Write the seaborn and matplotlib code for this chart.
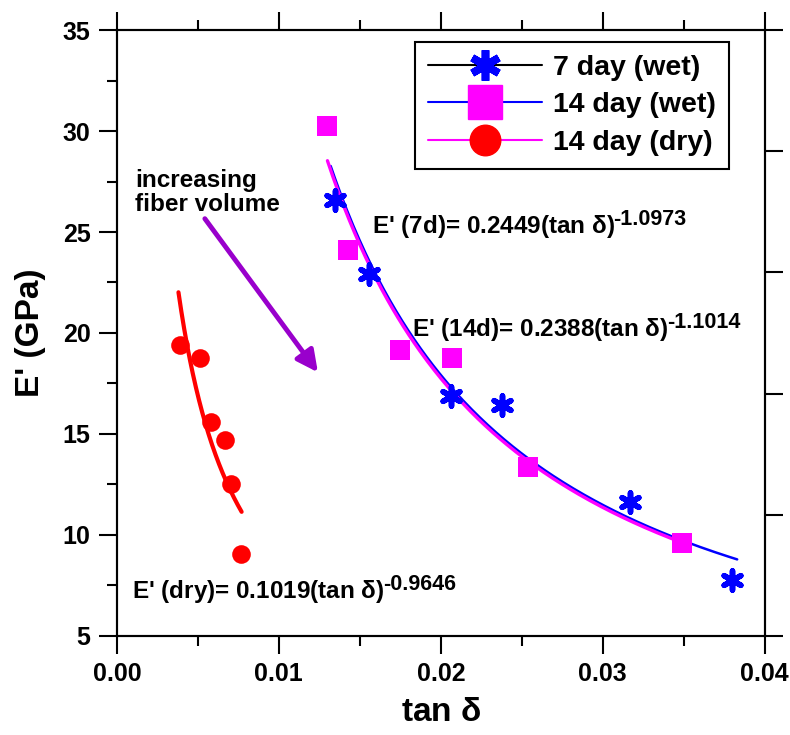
import numpy as np
import matplotlib
matplotlib.use("Agg")
import matplotlib.pyplot as plt
import seaborn as sns
from matplotlib.lines import Line2D
from matplotlib.ticker import MultipleLocator, FormatStrFormatter

# 7 day (wet) specimens
tan_7wet = [0.01346, 0.01556, 0.0206, 0.0238, 0.0317, 0.0380]
E_7wet = [26.6, 22.9, 16.9, 16.45, 11.65, 7.75]

# 14 day (wet) specimens
tan_14wet = [0.01296, 0.01426, 0.01747, 0.02068, 0.02537, 0.03488]
E_14wet = [30.25, 24.1, 19.15, 18.75, 13.35, 9.6]

# 14 day (dry) specimens
tan_14dry = [0.00389, 0.00512, 0.0058, 0.00667, 0.00704, 0.00765]
E_14dry = [19.4, 18.75, 15.6, 14.7, 12.5, 9.05]

# power-law fits printed on the chart: E' = a * (tan d)^b
fit_names = ["7d", "14d", "dry"]
fit_a = [0.2449, 0.2388, 0.1019]
fit_b = [-1.0973, -1.1014, -0.9646]
fit_lo = [0.0132, 0.0130, 0.0038]
fit_hi = [0.0383, 0.03525, 0.0077]
fit_colors = ["blue", "magenta", "red"]
fit_widths = [1.8, 2.4, 3.0]

legend_labels = ["7 day (wet)", "14 day (wet)", "14 day (dry)"]

sns.set_style("ticks")
plt.rcParams["font.family"] = ["Liberation Sans", "DejaVu Sans"]
plt.rcParams["font.weight"] = "bold"
plt.rcParams["mathtext.fontset"] = "custom"
plt.rcParams["mathtext.rm"] = "Liberation Sans"
plt.rcParams["mathtext.default"] = "rm"
for key in ["text.color", "axes.labelcolor", "xtick.color", "ytick.color",
            "axes.edgecolor"]:
    plt.rcParams[key] = "black"

fig, ax = plt.subplots(figsize=(7.9, 7.35), dpi=100)
fig.subplots_adjust(left=0.148, right=0.968, bottom=0.135, top=0.959)

# fitted curves
for a, b, lo, hi, c, lw in zip(fit_a, fit_b, fit_lo, fit_hi, fit_colors, fit_widths):
    t = np.linspace(lo, hi, 200)
    sns.lineplot(x=t, y=a * t ** b, color=c, lw=lw, ax=ax)

# measured points
sns.scatterplot(x=tan_7wet, y=E_7wet, marker=(6, 2, 0), s=190, color="blue",
                linewidth=4, ax=ax, zorder=3)
sns.scatterplot(x=tan_14wet, y=E_14wet, marker="s", s=210, color="magenta",
                linewidth=0, ax=ax, zorder=3)
sns.scatterplot(x=tan_14dry, y=E_14dry, marker="o", s=180, color="red",
                linewidth=0, ax=ax, zorder=3)

ax.set_xlim(0, 0.04)
ax.set_ylim(5, 35)
ax.xaxis.set_major_locator(MultipleLocator(0.01))
ax.xaxis.set_minor_locator(MultipleLocator(0.005))
ax.yaxis.set_major_locator(MultipleLocator(5))
ax.yaxis.set_minor_locator(MultipleLocator(2.5))
ax.xaxis.set_major_formatter(FormatStrFormatter("%.2f"))
ax.tick_params(which="major", direction="out", length=13, width=1.5,
               labelsize=18, top=True, right=False, pad=6)
ax.tick_params(which="minor", direction="out", length=7, width=1.5,
               top=True, right=False)
for sp in ax.spines.values():
    sp.set_linewidth(1.5)
    sp.set_color("black")

# right-hand axis with its own unlabeled ticks
ax2 = ax.twinx()
ax2.set_ylim(5, 35)
ax2.set_yticks([5, 11, 17, 23, 29, 35])
ax2.tick_params(direction="out", length=13, width=1.5, labelright=False)
for sp in ax2.spines.values():
    sp.set_linewidth(1.5)

ax.set_xlabel(r"tan $\delta$", fontsize=24, fontweight="bold", labelpad=8)
ax.set_ylabel("E' (GPa)", fontsize=24, fontweight="bold", labelpad=12)

# fit equations, exponent raised next to the closing bracket
eq_pos = [(0.01574, 25.25), (0.01821, 20.15), (0.000926, 7.18)]
for name, a, b, (x0, y0) in zip(fit_names, fit_a, fit_b, eq_pos):
    base = ax.text(x0, y0, f"E' ({name})= {a:.4f}(tan $\\delta$)",
                   fontsize=17.5, fontweight="bold", va="center", ha="left")
    ax.annotate(f"{b:.4f}", xy=(1, 0.5), xycoords=base,
                xytext=(-1, 1.5), textcoords="offset points",
                fontsize=15.5, fontweight="bold", va="baseline", ha="left")

# arrow and note
ax.annotate("", xy=(0.01241, 18.05), xytext=(0.00543, 25.66),
            arrowprops=dict(arrowstyle="-|>", color="#9900CC", lw=3.5,
                            mutation_scale=32, shrinkA=0, shrinkB=0))
ax.text(0.00111, 28.1, "increasing\nfiber volume", fontsize=17.5,
        fontweight="bold", va="top", ha="left", linespacing=1.05)

handles = [
    Line2D([], [], color="black", lw=1.5, marker=(6, 2, 0), markersize=22,
           markeredgecolor="blue", markeredgewidth=5.5),
    Line2D([], [], color="blue", lw=1.5, marker="s", markersize=24,
           markerfacecolor="magenta", markeredgecolor="magenta"),
    Line2D([], [], color="magenta", lw=1.5, marker="o", markersize=22,
           markerfacecolor="red", markeredgecolor="red"),
]
leg = ax.legend(handles, legend_labels, loc="upper right",
                bbox_to_anchor=(0.945, 0.98), borderaxespad=0,
                prop=dict(weight="bold", size=20.5), handlelength=4.0,
                handletextpad=0.4, labelspacing=0.4, borderpad=0.45,
                fancybox=False, framealpha=1, edgecolor="black")
leg.get_frame().set_linewidth(1.5)
leg.set_zorder(5)

fig.savefig("out.png", dpi=100)
